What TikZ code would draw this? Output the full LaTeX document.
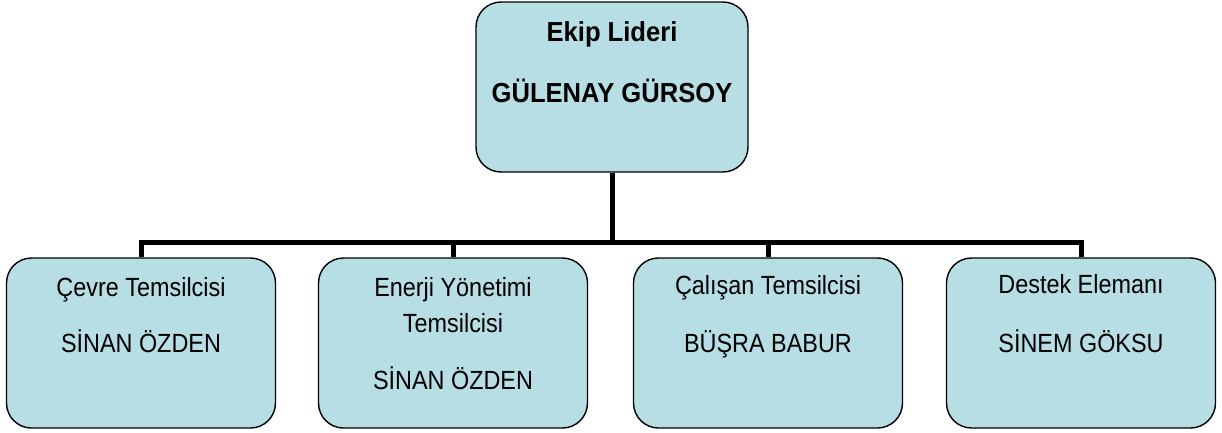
\documentclass[tikz,border=0pt]{standalone}
\usepackage{fontspec}
\setmainfont{Liberation Sans}
\newfontfamily\darfont[FakeStretch=0.89]{Liberation Sans}
\newfontfamily\liderfont[FakeStretch=0.93]{Liberation Sans}
\usetikzlibrary{positioning}
\definecolor{kutumavi}{RGB}{183,222,228}

\begin{document}
\begin{tikzpicture}[x=1pt,y=-1pt,
    kisi/.style={draw, fill=kutumavi, rounded corners=25pt, line width=1.4pt,
        minimum width=269pt, minimum height=170pt},
    baglanti/.style={line width=5pt, line join=miter},
    unvan/.style={anchor=base, inner sep=0pt, font=\darfont\fontsize{26.3}{30}\selectfont},
    lideryazi/.style={anchor=base, inner sep=0pt, font=\liderfont\bfseries\fontsize{27.5}{32}\selectfont}]
\useasboundingbox (0,0) rectangle (1222,433);

% lider kutusu
\node[kisi, minimum width=272pt] (lider) at (612,87) {};
\node[lideryazi] (lideranvan) at ([yshift=-40pt]lider.north) {Ekip Lideri};
\node[lideryazi] (liderisim) at ([yshift=-101pt]lider.north) {GÜLENAY GÜRSOY};

% alt kutular
\foreach \i/\x in {1/141, 2/453, 3/768, 4/1081}
    \node[kisi] (c\i) at (\x,343) {};

\node[unvan] (c1unvan) at ([yshift=-39pt]c1.north) {Çevre Temsilcisi};
\node[unvan] (c1isim) at ([yshift=-95pt]c1.north) {SİNAN ÖZDEN};

\node[unvan] (c2unvan) at ([yshift=-39pt]c2.north) {Enerji Yönetimi};
\node[unvan] (c2unvanb) at ([yshift=-75pt]c2.north) {Temsilcisi};
\node[unvan] (c2isim) at ([yshift=-132pt]c2.north) {SİNAN ÖZDEN};

\node[unvan] (c3unvan) at ([yshift=-37pt]c3.north) {Çalışan Temsilcisi};
\node[unvan] (c3isim) at ([yshift=-95pt]c3.north) {BÜŞRA BABUR};

\node[unvan] (c4unvan) at ([yshift=-36pt]c4.north) {Destek Elemanı};
\node[unvan] (c4isim) at ([yshift=-95pt]c4.north) {SİNEM GÖKSU};

% baglantilar
\coordinate (bar) at (611,242);
\draw[baglanti] (lider.south) -- (lider.south |- bar);
\draw[baglanti] (c1.north) -- (c1.north |- bar) -- (c4.north |- bar) -- (c4.north);
\foreach \i in {2,3}
    \draw[baglanti] (c\i.north) -- (c\i.north |- bar);

\end{tikzpicture}
\end{document}
